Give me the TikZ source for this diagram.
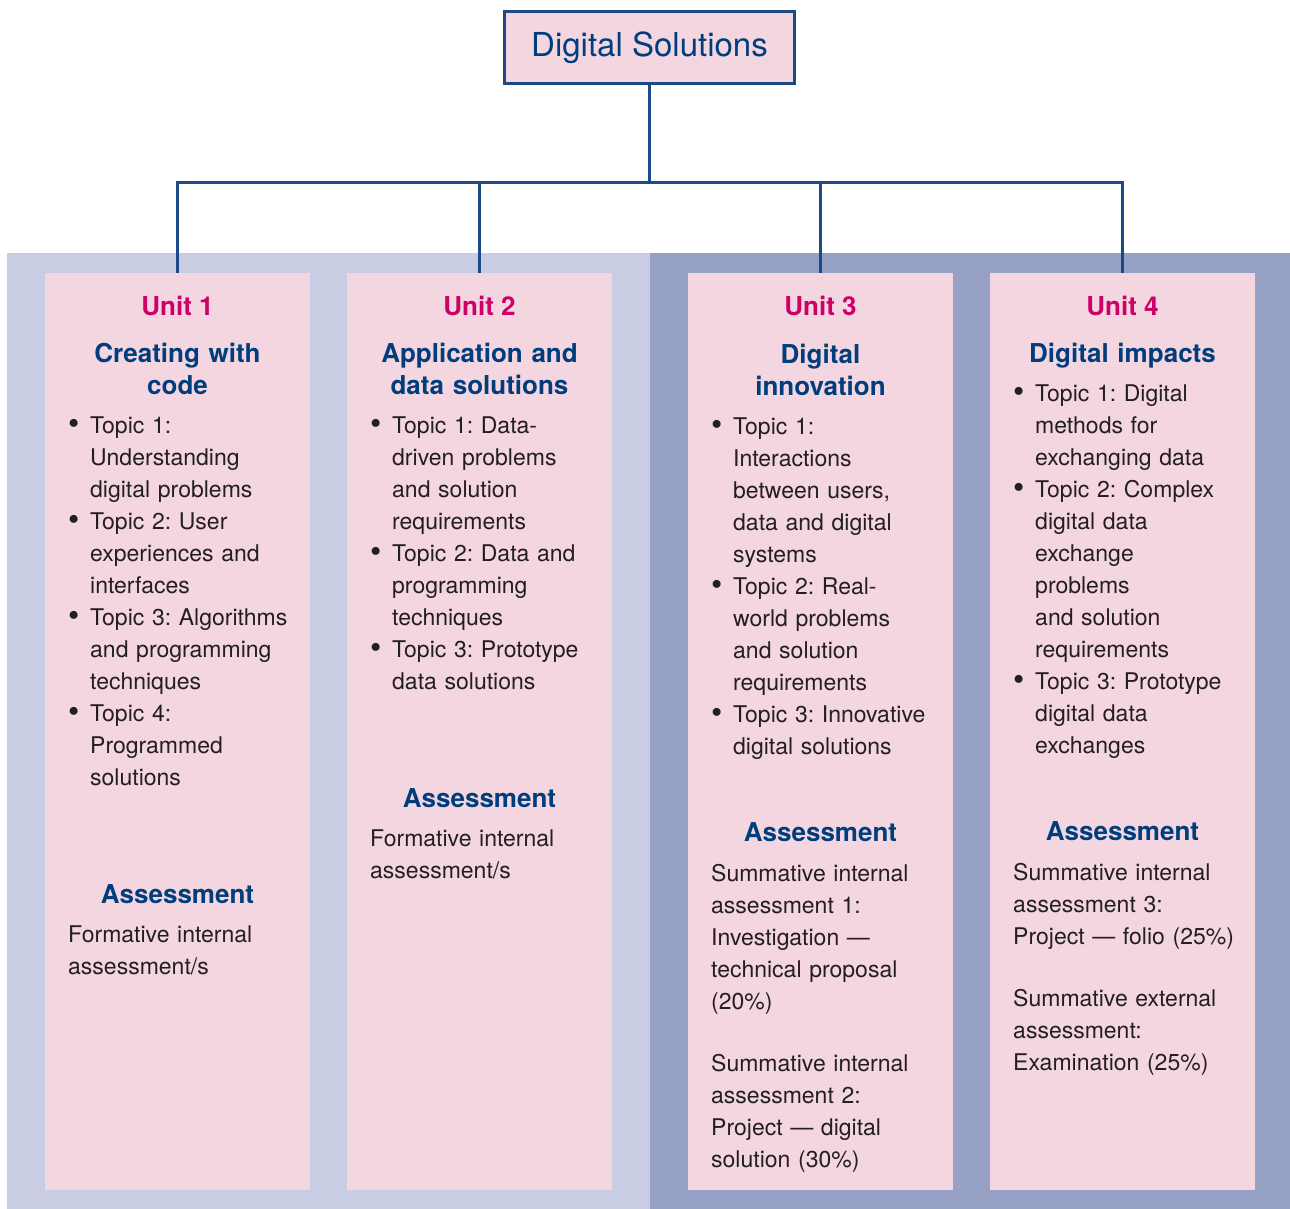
\documentclass[tikz,border=0pt]{standalone}
\usepackage{fontspec}
\setmainfont{TeX Gyre Heros}

\definecolor{navy}{HTML}{1B4A86}
\definecolor{headblue}{HTML}{003D7C}
\definecolor{unitpink}{HTML}{CC0066}
\definecolor{cardpink}{HTML}{F4D6E0}
\definecolor{panelA}{HTML}{C8CDE3}
\definecolor{panelB}{HTML}{97A1C6}
\definecolor{ink}{HTML}{231F20}

% bulleted item with hanging indent; lines inside an item are broken with \newline
\newcommand\bitem[1]{\hangindent=22pt\hangafter=1\noindent
  \makebox[22pt][l]{\raisebox{-1.5pt}{\scalebox{1.4}{\textbullet}}}#1\par}

\begin{document}
\frenchspacing
\begin{tikzpicture}[x=1pt,y=-1pt,
  card/.style={fill=cardpink, draw=none, minimum width=265pt, minimum height=917pt, inner sep=0pt},
  unitlbl/.style={anchor=base, inner sep=0pt, text=unitpink, font=\fontsize{26}{32}\selectfont\bfseries},
  heading/.style={anchor=base, inner sep=0pt, text width=260pt, align=center, text=headblue, font=\fontsize{26}{32}\selectfont\bfseries},
  body/.style={anchor=base west, inner sep=0pt, text width=245pt, align=left, text=ink, font=\fontsize{23}{32}\selectfont},
  topics/.style={anchor=base west, inner sep=0pt, text width=245pt, text=ink, font=\fontsize{23}{32}\selectfont},
  conn/.style={draw=navy, line width=2.6pt}
]
\useasboundingbox (0,0) rectangle (1290,1209);

% background panels
\fill[panelA] (7,253) rectangle (650,1209);
\fill[panelB] (650,253) rectangle (1290,1209);

% unit cards
\node[card] (u1) at (177.5,731.5) {};
\node[card] (u2) at (479.5,731.5) {};
\node[card] (u3) at (820.5,731.5) {};
\node[card] (u4) at (1122.5,731.5) {};

% subject box
\node[draw=navy, line width=3pt, fill=cardpink, minimum width=290pt, minimum height=72pt,
      inner sep=0pt, text=headblue, font=\fontsize{33}{40}\selectfont] (root) at (649.5,47.5) {Digital Solutions};

% tree connectors
\draw[conn] (root.south) -- ++(0,97.5) coordinate (bus);
\draw[conn] (bus) -| (u1.north);
\draw[conn] (bus) -| (u2.north);
\draw[conn] (bus) -| (u3.north);
\draw[conn] (bus) -| (u4.north);

% Unit 1
\node[unitlbl] (u1lbl) at (177.5,315) {Unit 1};
\node[heading] (u1title) at (177.5,362) {Creating with\\code};
\node[topics] (u1topics) at (68,433) {\raggedright
  \bitem{Topic 1:\newline Understanding\newline digital problems}
  \bitem{Topic 2: User\newline experiences and\newline interfaces}
  \bitem{Topic 3: Algorithms\newline and programming\newline techniques}
  \bitem{Topic 4:\newline Programmed\newline solutions}};
\node[heading] (u1ahead) at (177.5,903) {Assessment};
\node[body] (u1abody) at (68,942) {Formative internal\\assessment/s};

% Unit 2
\node[unitlbl] (u2lbl) at (479.5,315) {Unit 2};
\node[heading] (u2title) at (479.5,362) {Application and\\data solutions};
\node[topics] (u2topics) at (370,433) {\raggedright
  \bitem{Topic 1: Data-\newline driven problems\newline and solution\newline requirements}
  \bitem{Topic 2: Data and\newline programming\newline techniques}
  \bitem{Topic 3: Prototype\newline data solutions}};
\node[heading] (u2ahead) at (479.5,807) {Assessment};
\node[body] (u2abody) at (370,846) {Formative internal\\assessment/s};

% Unit 3
\node[unitlbl] (u3lbl) at (820.5,315) {Unit 3};
\node[heading] (u3title) at (820.5,363) {Digital\\innovation};
\node[topics] (u3topics) at (711,434) {\raggedright
  \bitem{Topic 1:\newline Interactions\newline between users,\newline data and digital\newline systems}
  \bitem{Topic 2: Real-\newline world problems\newline and solution\newline requirements}
  \bitem{Topic 3: Innovative\newline digital solutions}};
\node[heading] (u3ahead) at (820.5,841) {Assessment};
\node[body] (u3abody) at (711,881) {Summative internal\\assessment 1:\\Investigation —\\technical proposal\\(20\%)\\[30pt]Summative internal\\assessment 2:\\Project — digital\\solution (30\%)};

% Unit 4
\node[unitlbl] (u4lbl) at (1122.5,315) {Unit 4};
\node[heading] (u4title) at (1122.5,362) {Digital impacts};
\node[topics] (u4topics) at (1013,401) {\raggedright
  \bitem{Topic 1: Digital\newline methods for\newline exchanging data}
  \bitem{Topic 2: Complex\newline digital data\newline exchange\newline problems\newline and solution\newline requirements}
  \bitem{Topic 3: Prototype\newline digital data\newline exchanges}};
\node[heading] (u4ahead) at (1122.5,840) {Assessment};
\node[body] (u4abody) at (1013,880) {Summative internal\\assessment 3:\\Project — folio (25\%)\\[30pt]Summative external\\assessment:\\Examination (25\%)};
\end{tikzpicture}
\end{document}
